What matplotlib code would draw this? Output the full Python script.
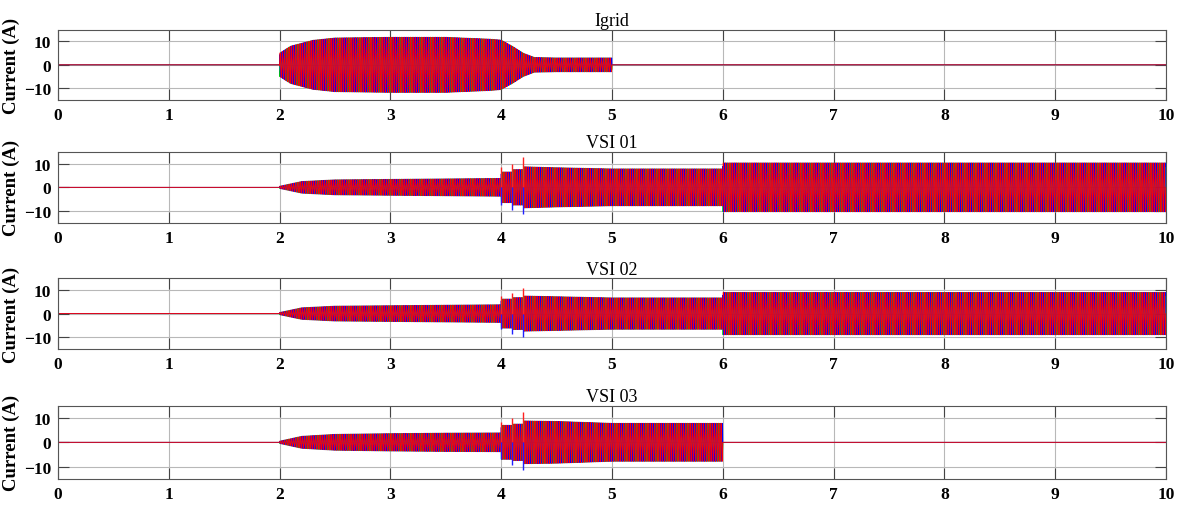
import matplotlib.pyplot as plt
import numpy as np

plt.rcParams['font.family'] = ['Liberation Serif', 'DejaVu Serif']

# panel titles
titles = ["Igrid", "VSI 01", "VSI 02", "VSI 03"]

# peak current envelope (time s, amplitude A)
igrid_t = [0, 1.999, 2.0, 2.1, 2.3, 2.5, 3.0, 3.5, 3.9, 4.0, 4.1, 4.2, 4.3, 4.5, 4.999, 5.0, 10]
igrid_a = [0, 0, 5.0, 8.0, 10.5, 11.5, 11.8, 11.8, 11.0, 10.6, 8.0, 5.0, 3.2, 3.0, 3.0, 0, 0]

vsi1_t = [0, 1.999, 2.0, 2.2, 2.5, 3.0, 3.5, 3.999, 4.0, 4.099, 4.1, 4.199, 4.2, 4.5, 5.0, 5.999, 6.0, 10]
vsi1_a = [0, 0, 0.5, 2.5, 3.2, 3.4, 3.6, 3.8, 6.5, 6.5, 7.5, 7.5, 8.7, 8.3, 7.8, 7.8, 10.3, 10.3]

vsi2_t = [0, 1.999, 2.0, 2.2, 2.5, 3.0, 3.5, 3.999, 4.0, 4.099, 4.1, 4.199, 4.2, 4.5, 5.0, 5.999, 6.0, 10]
vsi2_a = [0, 0, 0.5, 2.5, 3.2, 3.4, 3.6, 3.8, 6.2, 6.2, 6.8, 6.8, 7.5, 7.2, 6.7, 6.7, 9.0, 9.0]

vsi3_t = [0, 1.999, 2.0, 2.2, 2.5, 3.0, 3.5, 3.999, 4.0, 4.099, 4.1, 4.199, 4.2, 4.5, 5.0, 5.999, 6.0, 10]
vsi3_a = [0, 0, 0.5, 2.5, 3.3, 3.6, 3.8, 3.9, 7.0, 7.0, 7.5, 7.5, 8.8, 8.6, 7.8, 7.8, 0, 0]

# switching transients at 4.0, 4.1, 4.2 s (peak up / peak down)
spike_t = [4.0, 4.1, 4.2]
spike_up = [[0, 0, 0], [8.4, 9.7, 12.6], [7.5, 8.6, 11.0], [8.2, 9.9, 12.3]]
spike_dn = [[0, 0, 0], [-7.5, -9.5, -11.4], [-6.5, -8.8, -10.0], [-6.7, -9.2, -11.5]]

env_t = [igrid_t, vsi1_t, vsi2_t, vsi3_t]
env_a = [igrid_a, vsi1_a, vsi2_a, vsi3_a]

f_grid = 50.0     # Hz
dt = 5e-4         # simulation step
phase_cols = ["#00d000", "#0000ff", "#ff0000"]
phase_lw = [0.5, 0.55, 0.62]
phase_shift = [-2 * np.pi / 3, 2 * np.pi / 3, 0.0]

fig = plt.figure(figsize=(11.85, 5.06), dpi=100)
bottoms = [0.8004, 0.5573, 0.3083, 0.0514]
heights = [0.139, 0.141, 0.140, 0.145]

t = np.arange(0, 10 + dt, dt)
for k in range(4):
    ax = fig.add_axes([0.0489, bottoms[k], 0.935, heights[k]])
    env = np.interp(t, env_t[k], env_a[k])
    for c, w, ph in zip(phase_cols, phase_lw, phase_shift):
        ax.plot(t, env * np.sin(2 * np.pi * f_grid * t + ph), color=c, lw=w)
    ax.vlines(spike_t, 0, spike_up[k], color="#ff2020", lw=1.0)
    ax.vlines(spike_t, spike_dn[k], 0, color="#2020ff", lw=1.0)

    ax.set_xlim(0, 10)
    ax.set_ylim(-15, 15)
    ax.set_xticks(range(0, 11))
    ax.set_yticks([-10, 0, 10])
    ax.grid(True, color="#b8b8b8", lw=0.8)
    ax.set_axisbelow(True)
    ax.tick_params(direction="in", length=8, width=0.8, color="#444444",
                   top=True, right=True, labelsize=12.5, pad=5)
    for lab in ax.get_xticklabels() + ax.get_yticklabels():
        lab.set_fontweight("bold")
    for s in ax.spines.values():
        s.set_color("#555555")
        s.set_linewidth(0.8)
    ax.set_title(titles[k], fontsize=13, pad=3)
    ax.set_ylabel("Current (A)", fontsize=13.5, fontweight="bold", labelpad=3)

fig.savefig("out.png", dpi=100)
